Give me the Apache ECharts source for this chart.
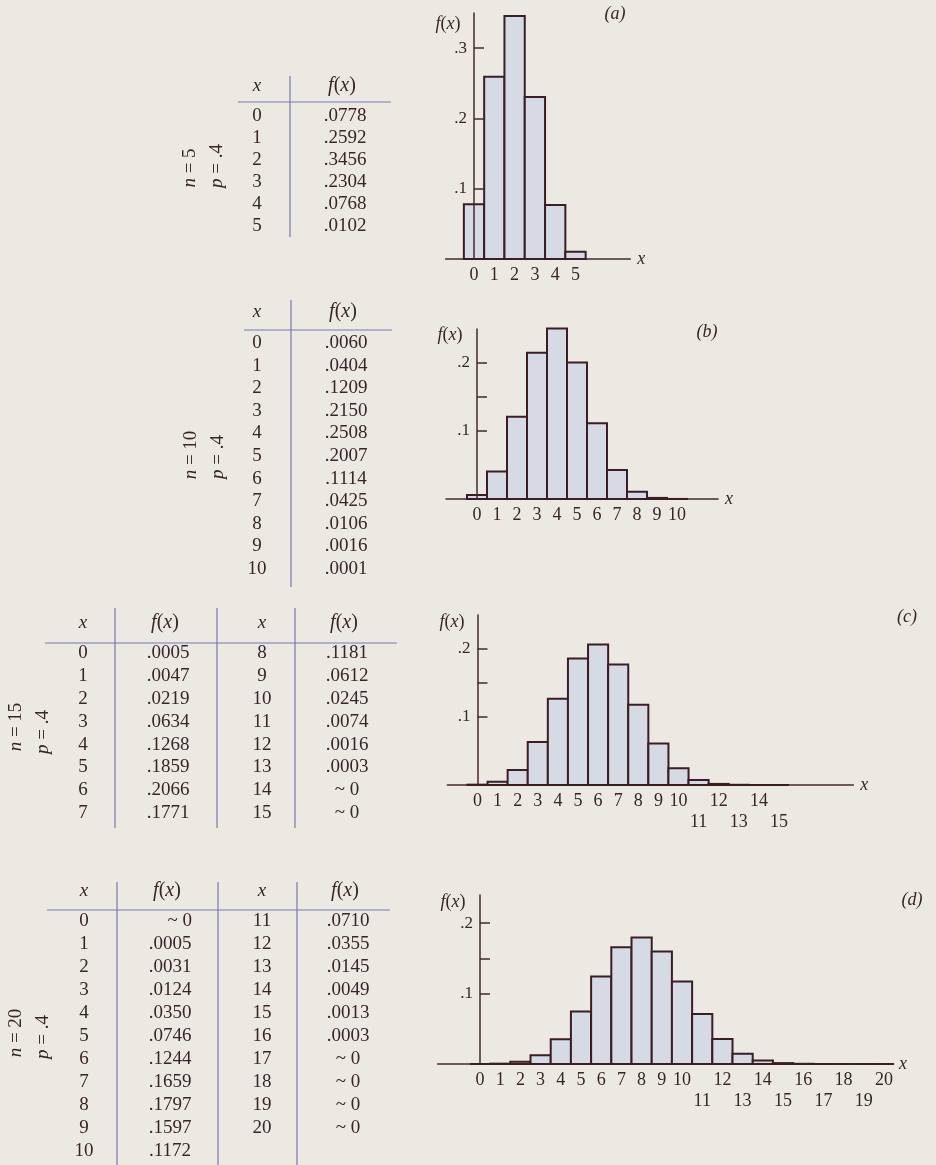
<!DOCTYPE html>
<html>
<head>
<meta charset="utf-8">
<script src="https://cdn.jsdelivr.net/npm/echarts@6/dist/echarts.min.js"></script>
<style>
  html, body { margin: 0; padding: 0; background: #ece8e2; }
  #chart { width: 936px; height: 1165px; }
</style>
</head>
<body>
<div id="chart"></div>
<script>
// Binomial probabilities f(x) for p = .4 and n = 5, 10, 15, 20.
// A value of 0 stands for a probability that rounds to zero ("~ 0").
const xA = [0, 1, 2, 3, 4, 5];
const fA = [0.0778, 0.2592, 0.3456, 0.2304, 0.0768, 0.0102];

const xB = [0, 1, 2, 3, 4, 5, 6, 7, 8, 9, 10];
const fB = [0.0060, 0.0404, 0.1209, 0.2150, 0.2508, 0.2007, 0.1114, 0.0425, 0.0106, 0.0016, 0.0001];

const xC = [0, 1, 2, 3, 4, 5, 6, 7, 8, 9, 10, 11, 12, 13, 14, 15];
const fC = [0.0005, 0.0047, 0.0219, 0.0634, 0.1268, 0.1859, 0.2066, 0.1771,
            0.1181, 0.0612, 0.0245, 0.0074, 0.0016, 0.0003, 0, 0];

const xD = [0, 1, 2, 3, 4, 5, 6, 7, 8, 9, 10, 11, 12, 13, 14, 15, 16, 17, 18, 19, 20];
const fD = [0, 0.0005, 0.0031, 0.0124, 0.0350, 0.0746, 0.1244, 0.1659, 0.1797, 0.1597, 0.1172,
            0.0710, 0.0355, 0.0145, 0.0049, 0.0013, 0.0003, 0, 0, 0, 0];

// Axis tick values and labels
const yTicksA = [0.1, 0.2, 0.3];
const yLabelsA = [0.1, 0.2, 0.3];
const yTicks = [0.1, 0.15, 0.2];
const yLabels = [0.1, 0.2];
const lowerRowC = [11, 13, 15];
const lowerRowD = [11, 13, 15, 17, 19];

const INK = '#38242a';
const AXIS = '#43282e';
const RULE = '#7779b0';
const BAR_FILL = '#d5dae4';
const BAR_EDGE = '#3a1e24';
const SERIF = '"Liberation Serif", "DejaVu Serif", serif';

const panels = [
  { tag: 'a', xs: xA, fs: fA, ymax: 0.35, ticks: yTicksA, labels: yLabelsA, lower: [],
    xMin: -1.4, xMax: 7.7, grid: { left: 445.6, top: 13, width: 184.7, height: 246 },
    fx: [448, 24], tagPos: [615, 14] },
  { tag: 'b', xs: xB, fs: fB, ymax: 0.25, ticks: yTicks, labels: yLabels, lower: [],
    xMin: -1.55, xMax: 12.05, grid: { left: 446, top: 329, width: 272, height: 170 },
    fx: [450, 335], tagPos: [707, 332] },
  { tag: 'c', xs: xC, fs: fC, ymax: 0.25, ticks: yTicks, labels: yLabels, lower: lowerRowC,
    xMin: -1.5, xMax: 18.7, grid: { left: 447.35, top: 615, width: 406, height: 170 },
    fx: [452, 622], tagPos: [907, 617] },
  { tag: 'd', xs: xD, fs: fD, ymax: 0.24, ticks: yTicks, labels: yLabels, lower: lowerRowD,
    xMin: -2.1, xMax: 20.4, grid: { left: 437.6, top: 895, width: 454.5, height: 169 },
    fx: [453, 902], tagPos: [912, 900] }
];

const fmtProb = v => v === 0 ? '~ 0' : v.toFixed(4).replace(/^0/, '');
const fmtTick = v => String(v).replace(/^0/, '');

function text(x, y, str, opts) {
  opts = opts || {};
  return {
    type: 'text', x: x, y: y, rotation: opts.rotation || 0, silent: true,
    style: {
      text: str, fill: INK, fontFamily: SERIF, fontSize: opts.size || 19,
      fontStyle: opts.italic ? 'italic' : 'normal',
      align: opts.align || 'center', verticalAlign: 'middle',
      rich: {
        i: { fontStyle: 'italic', fontFamily: SERIF, fontSize: opts.size || 19, fill: INK }
      }
    }
  };
}

function rule(x1, y1, x2, y2) {
  return {
    type: 'line', silent: true,
    shape: { x1: x1, y1: y1, x2: x2, y2: y2 },
    style: { stroke: RULE, lineWidth: 1.2 }
  };
}

// Table layouts: each block is a pair of columns (x, f(x)) for a slice of rows.
const tables = [
  { n: 5, xs: xA, fs: fA, headerY: 86, rowY: 116, pitch: 22,
    blocks: [{ from: 0, to: 6, xCol: 257, fCol: 345 }],
    vlines: [[290, 76, 237]], hline: [238, 391, 102],
    nPos: [190, 168], pPos: [217, 166] },
  { n: 10, xs: xB, fs: fB, headerY: 312, rowY: 343, pitch: 22.6,
    blocks: [{ from: 0, to: 11, xCol: 257, fCol: 346 }],
    vlines: [[291, 300, 587]], hline: [244, 392, 330],
    nPos: [191, 455], pPos: [218, 457] },
  { n: 15, xs: xC, fs: fC, headerY: 623, rowY: 653, pitch: 22.9,
    blocks: [{ from: 0, to: 8, xCol: 83, fCol: 168 }, { from: 8, to: 16, xCol: 262, fCol: 347 }],
    vlines: [[115, 608, 828], [217, 608, 828], [295, 608, 828]], hline: [45, 397, 643],
    nPos: [16, 727], pPos: [43, 732] },
  { n: 20, xs: xD, fs: fD, headerY: 891, rowY: 921, pitch: 23,
    blocks: [{ from: 0, to: 11, xCol: 84, fCol: 170, zeroRight: 192 }, { from: 11, to: 21, xCol: 262, fCol: 348 }],
    vlines: [[117, 882, 1165], [218, 882, 1165], [297, 882, 1165]], hline: [47, 390, 910],
    nPos: [16, 1033], pPos: [43, 1037] }
];

const elements = [];

tables.forEach(t => {
  t.blocks.forEach(b => {
    elements.push(text(b.xCol, t.headerY, '{i|x}'));
    elements.push(text(b.fCol - 3, t.headerY, '{i|f}({i|x})', { size: 20 }));
    for (let i = b.from; i < b.to; i++) {
      const y = t.rowY + (i - b.from) * t.pitch;
      elements.push(text(b.xCol, y, String(t.xs[i])));
      if (t.fs[i] === 0 && b.zeroRight) {
        elements.push(text(b.zeroRight, y, fmtProb(t.fs[i]), { align: 'right' }));
      } else {
        elements.push(text(b.fCol, y, fmtProb(t.fs[i])));
      }
    }
  });
  t.vlines.forEach(v => elements.push(rule(v[0], v[1], v[0], v[2])));
  elements.push(rule(t.hline[0], t.hline[2], t.hline[1], t.hline[2]));
  elements.push(text(t.nPos[0], t.nPos[1], '{i|n} = ' + t.n, { rotation: Math.PI / 2 }));
  elements.push(text(t.pPos[0], t.pPos[1], '{i|p} = .4', { rotation: Math.PI / 2 }));
});

panels.forEach(p => {
  elements.push(text(p.fx[0], p.fx[1], '{i|f}({i|x})', { size: 18 }));
  elements.push(text(p.tagPos[0], p.tagPos[1], '(' + p.tag + ')', { size: 18, italic: true }));
});

const grids = panels.map(p => Object.assign({ outerBoundsMode: 'none', containLabel: false }, p.grid));

const xAxes = panels.map((p, i) => ({
  type: 'value', gridIndex: i, min: p.xMin, max: p.xMax,
  axisLine: { show: true, onZero: true, symbol: 'none', lineStyle: { color: AXIS, width: 1.5 } },
  axisTick: { show: false },
  splitLine: { show: false },
  axisLabel: {
    customValues: p.xs,
    formatter: v => (p.lower.indexOf(v) >= 0 ? '\n' : '') + v,
    color: INK, fontFamily: SERIF, fontSize: 18, lineHeight: 21, margin: 6,
    hideOverlap: false
  },
  name: 'x', nameLocation: 'end', nameGap: 7,
  nameTextStyle: { fontStyle: 'italic', fontFamily: SERIF, fontSize: 18, color: INK }
}));

// The y-axis sits on x = 0, so its labels are pulled in from the grid edge by the same offset.
const yAxes = panels.map((p, i) => {
  const zeroOffset = (0 - p.xMin) / (p.xMax - p.xMin) * p.grid.width;
  return {
    type: 'value', gridIndex: i, min: 0, max: p.ymax, z: 3,
    axisLine: { show: true, onZero: true, symbol: 'none', lineStyle: { color: AXIS, width: 1.5 } },
    axisTick: { show: true, inside: true, length: 10, customValues: p.ticks,
                lineStyle: { color: AXIS, width: 1.5 } },
    splitLine: { show: false },
    axisLabel: {
      customValues: p.labels, formatter: fmtTick,
      color: INK, fontFamily: SERIF, fontSize: 17, margin: 7 - zeroOffset
    }
  };
});

const series = panels.map((p, i) => ({
  type: 'custom', xAxisIndex: i, yAxisIndex: i, z: 2,
  data: p.xs.map((x, k) => [x, p.fs[k]]),
  renderItem: (params, api) => {
    const x = api.value(0);
    const top = api.coord([x - 0.5, api.value(1)]);
    const base = api.coord([x + 0.5, 0]);
    return {
      type: 'rect',
      shape: { x: top[0], y: top[1], width: base[0] - top[0], height: base[1] - top[1] },
      style: { fill: BAR_FILL, stroke: BAR_EDGE, lineWidth: 2 }
    };
  }
}));

const chart = echarts.init(document.getElementById('chart'), null, { renderer: 'canvas' });
chart.setOption({
  backgroundColor: '#ece8e2',
  animation: false,
  grid: grids,
  xAxis: xAxes,
  yAxis: yAxes,
  series: series,
  graphic: { elements: elements }
});
</script>
</body>
</html>
